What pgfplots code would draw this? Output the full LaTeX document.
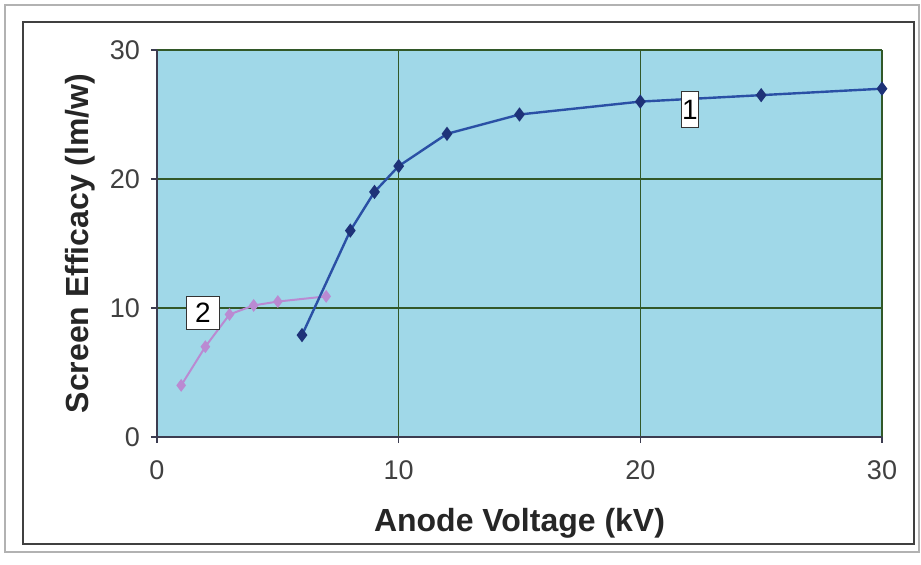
\documentclass[border=0pt]{standalone}
\usepackage{fontspec}
\setmainfont{Liberation Sans}
\usepackage{pgfplots}
\pgfplotsset{compat=1.18}
\definecolor{bgc}{RGB}{160,216,232}
\definecolor{gridc}{RGB}{50,88,40}
\definecolor{s1}{RGB}{42,80,165}
\definecolor{s1m}{RGB}{30,50,120}
\definecolor{s2}{RGB}{186,138,210}
\definecolor{axc}{RGB}{60,60,80}
\begin{document}
\begin{tikzpicture}
\path (0,0) rectangle (460.5pt,282.5pt);
\draw[gray!60, line width=0.6pt] (2.5pt,6.5pt) rectangle (459.5pt,280pt);
\draw[black!75, line width=0.8pt] (11.5pt,10.5pt) rectangle (457pt,271.5pt);
\begin{axis}[
  at={(78.5pt,64pt)}, anchor=origin,
  scale only axis, width=362.5pt, height=193.5pt,
  xmin=0, xmax=30, ymin=0, ymax=30,
  xtick={0,10,20,30}, ytick={0,10,20,30},
  axis background/.style={fill=bgc},
  axis x line*=bottom, axis y line*=left,
  axis line style={axc, line width=0.8pt},
  x axis line style={-}, y axis line style={-},
  grid=major, major grid style={gridc, line width=0.6pt},
  tick align=outside, major tick length=3pt,
  tick style={axc, line width=0.6pt},
  /pgf/number format/assume math mode=true,
  ticklabel style={font=\fontsize{13.5}{16}\selectfont, text=black!75},
  xticklabel style={yshift=-5.5pt},
  yticklabel style={xshift=-2pt},
  xlabel={\textbf{Anode Voltage (kV)}},
  ylabel={\textbf{Screen Efficacy (lm/w)}},
  label style={font=\fontsize{16}{19}\selectfont, text=black!85},
  xlabel style={at={(axis description cs:0.5,0)}, anchor=center, yshift=-43pt},
  ylabel style={at={(axis description cs:0,0.5)}, anchor=center, rotate=0, yshift=38.5pt},
  clip=false,
]
\addplot[s2, line width=1pt, mark=diamond*, mark size=2.4pt, mark options={fill=s2, draw=s2}] coordinates {
(1,4.0) (2,7.0) (3,9.5) (4,10.2) (5,10.5) (7,10.9)
};
\addplot[s1, line width=1.2pt, mark=diamond*, mark size=2.6pt, mark options={fill=s1m, draw=s1m}] coordinates {
(6,7.9) (8,16.0) (9,19.0) (10,21.0) (12,23.5) (15,25.0) (20,26.0) (25,26.5) (30,27.0)
};
\node[draw=black!80, fill=white, line width=0.5pt, minimum width=16.5pt, minimum height=16.5pt, inner sep=1pt, font=\fontsize{14}{16}\selectfont] at (axis cs:1.9,9.6) {2};
\node[draw=black!80, fill=white, line width=0.5pt, minimum width=8pt, minimum height=18pt, inner sep=0.5pt, font=\fontsize{14}{16}\selectfont] at (axis cs:22.05,25.35) {1};
\end{axis}
\end{tikzpicture}
\end{document}
